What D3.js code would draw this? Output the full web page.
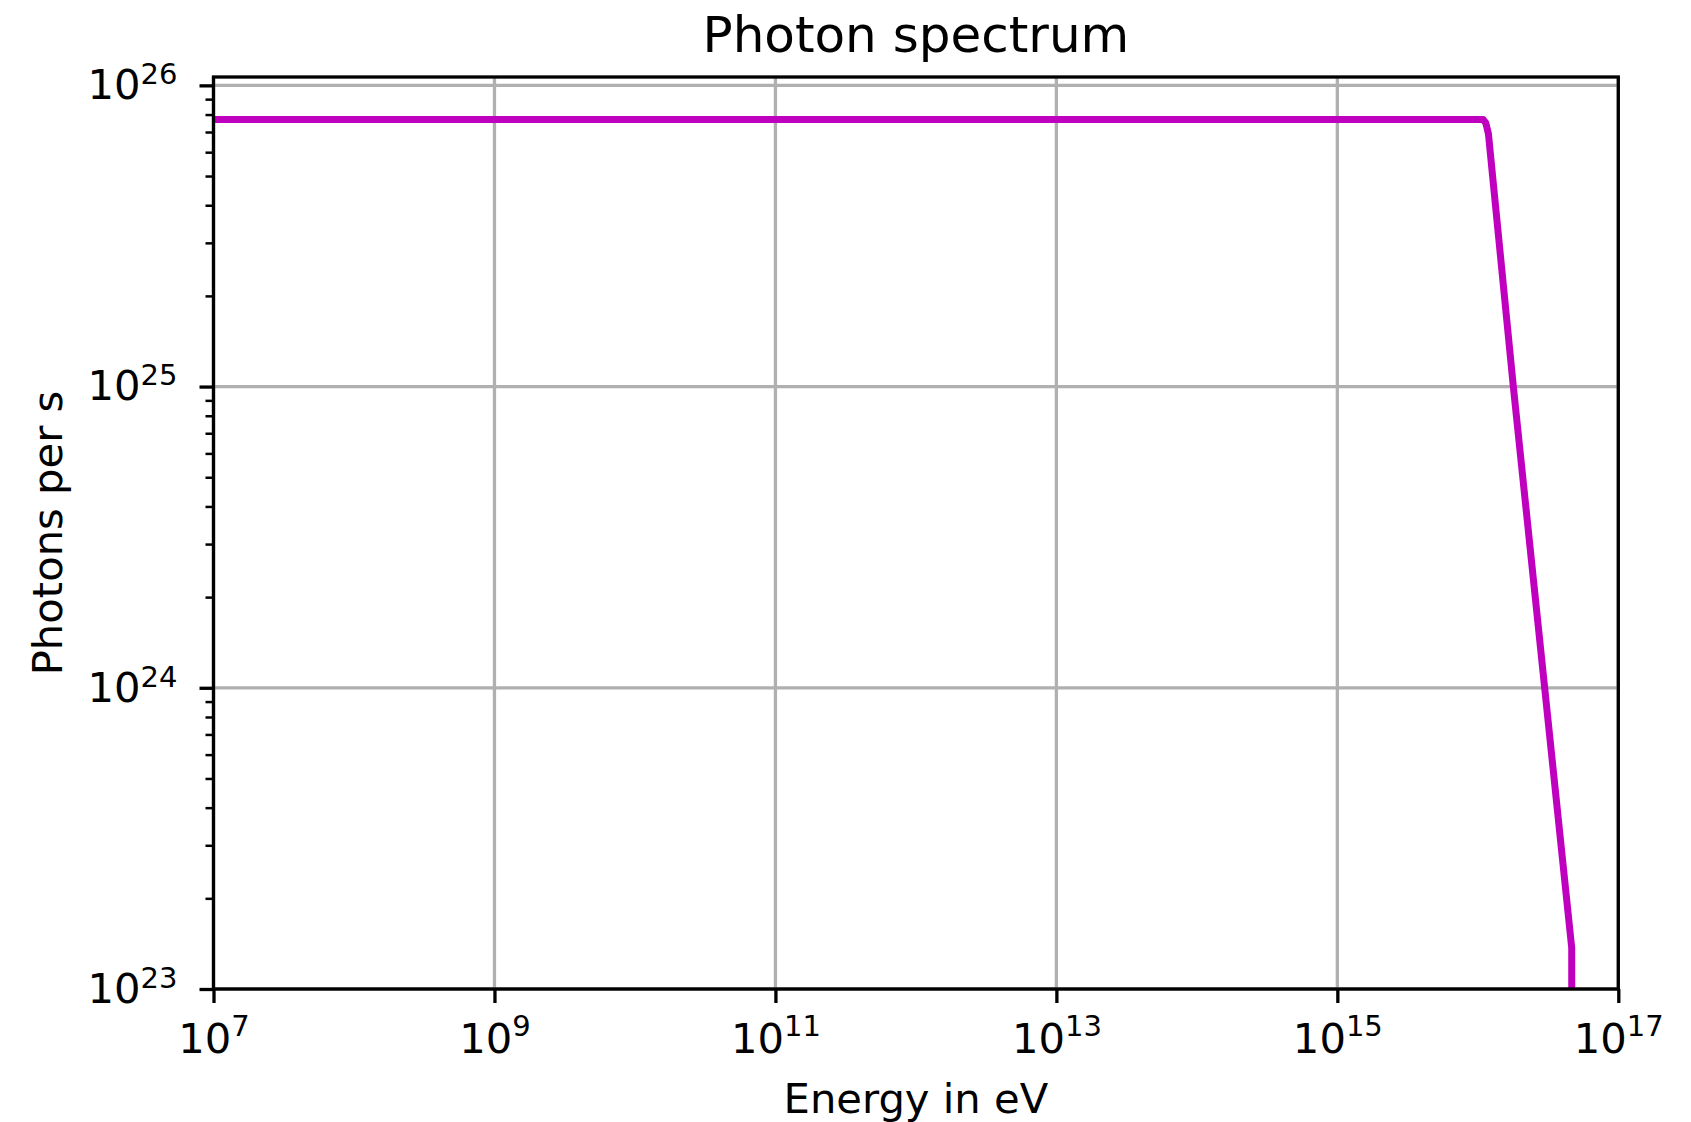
<!DOCTYPE html>
<html>
<head>
<meta charset="utf-8">
<script src="https://cdn.jsdelivr.net/npm/d3@7"></script>
<style>
    body { margin: 0; background: #fff; }
    text { font-family: "DejaVu Sans", sans-serif; fill: #000; }
</style>
</head>
<body>
<div id="chart"></div>
<script>

// spectrum
const energy = [1e7, 1.09e16, 1.14e16, 1.19e16, 1.79e16, 4.66e16, 4.67e16];
const photons = [7.7e25, 7.7e25, 7.5e25, 6.9e25, 1.0e25, 1.37e23, 1e22];

const xTicks = [1e7, 1e9, 1e11, 1e13, 1e15, 1e17];
const yTicks = [1e23, 1e24, 1e25, 1e26];
const xTickExp = ["7", "9", "11", "13", "15", "17"];
const yTickExp = ["23", "24", "25", "26"];

const title = "Photon spectrum",
    xLabel = "Energy in eV",
    yLabel = "Photons per s";

var Chart = (() => {

    let svg = {
            width: 1691,
            height: 1122,
            margin: { top: 77, right: 72.7, bottom: 133, left: 213.5 }
        },
        xScale, yScale;

    const w = () => svg.width - svg.margin.left - svg.margin.right,
        h = () => svg.height - svg.margin.top - svg.margin.bottom;

    function scaleData() {
        xScale = d3.scaleLog()
            .domain([1e7, 1e17])
            .range([0, w()]);

        yScale = d3.scaleLog()
            .domain([1e23, 1.066e26])
            .range([h(), 0]);
    }

    // turn "10" + exponent into tspans
    function powerLabel(sel, exps, supDy) {
        sel.each(function (d, i) {
            const t = d3.select(this).text(null);
            t.append("tspan").text("10");
            t.append("tspan")
                .attr("font-size", "29px")
                .attr("dy", supDy)
                .text(exps[i]);
        });
    }

    function plotData() {
        const chart = d3.select("#chart")
            .append("svg")
            .attr("width", svg.width)
            .attr("height", svg.height);

        const g = chart.append("g")
            .attr("transform", `translate(${svg.margin.left},${svg.margin.top})`);

        g.append("defs").append("clipPath")
            .attr("id", "clip")
            .append("rect")
            .attr("width", w())
            .attr("height", h());

        // grid
        g.append("g").selectAll("line.gx")
            .data(xTicks)
            .join("line")
            .attr("x1", d => xScale(d)).attr("x2", d => xScale(d))
            .attr("y1", 0).attr("y2", h())
            .attr("stroke", "#b0b0b0")
            .attr("stroke-width", 3.3);

        g.append("g").selectAll("line.gy")
            .data(yTicks)
            .join("line")
            .attr("y1", d => yScale(d)).attr("y2", d => yScale(d))
            .attr("x1", 0).attr("x2", w())
            .attr("stroke", "#b0b0b0")
            .attr("stroke-width", 3.3);

        // the line
        const line = d3.line()
            .x((d, i) => xScale(energy[i]))
            .y(d => yScale(d));

        g.append("path")
            .datum(photons)
            .attr("clip-path", "url(#clip)")
            .attr("fill", "none")
            .attr("stroke", "#bf00bf")
            .attr("stroke-width", 7)
            .attr("stroke-linejoin", "round")
            .attr("d", line);

        // axes
        const xAxis = d3.axisBottom(xScale)
            .tickValues(xTicks)
            .tickSize(14)
            .tickPadding(20)
            .tickFormat(d => "10");

        const gx = g.append("g")
            .attr("transform", `translate(0,${h()})`)
            .call(xAxis);
        gx.select(".domain").remove();
        gx.selectAll("line").attr("stroke-width", 3.3);
        gx.selectAll("text")
            .attr("font-size", "41.7px")
            .call(powerLabel, xTickExp, -17);

        let minor = [];
        for (let e = 23; e < 26; e++)
            for (let k = 2; k < 10; k++) minor.push(k * Math.pow(10, e));

        const gyMinor = g.append("g")
            .call(d3.axisLeft(yScale).tickValues(minor).tickSize(8).tickFormat(""));
        gyMinor.select(".domain").remove();
        gyMinor.selectAll("line").attr("stroke-width", 2.5);

        const yAxis = d3.axisLeft(yScale)
            .tickValues(yTicks)
            .tickSize(14)
            .tickPadding(22)
            .tickFormat(d => "10");

        const gy = g.append("g").call(yAxis);
        gy.select(".domain").remove();
        gy.selectAll("line").attr("stroke-width", 3.3);
        gy.selectAll("text")
            .attr("font-size", "41.7px")
            .call(powerLabel, yTickExp, -15);

        // frame
        g.append("rect")
            .attr("width", w())
            .attr("height", h())
            .attr("fill", "none")
            .attr("stroke", "#000")
            .attr("stroke-width", 3.3);

        // texts
        g.append("text")
            .attr("x", w() / 2)
            .attr("y", 51.7 - svg.margin.top)
            .attr("text-anchor", "middle")
            .attr("font-size", "50px")
            .text(title);

        g.append("text")
            .attr("x", w() / 2)
            .attr("y", 1112.5 - svg.margin.top)
            .attr("text-anchor", "middle")
            .attr("font-size", "41.7px")
            .text(xLabel);

        g.append("text")
            .attr("transform", `translate(${62 - svg.margin.left},${h() / 2}) rotate(-90)`)
            .attr("text-anchor", "middle")
            .attr("font-size", "41.7px")
            .text(yLabel);
    }

    return { svg, scaleData, plotData };

})();

Chart.scaleData();
Chart.plotData();

</script>
</body>
</html>
